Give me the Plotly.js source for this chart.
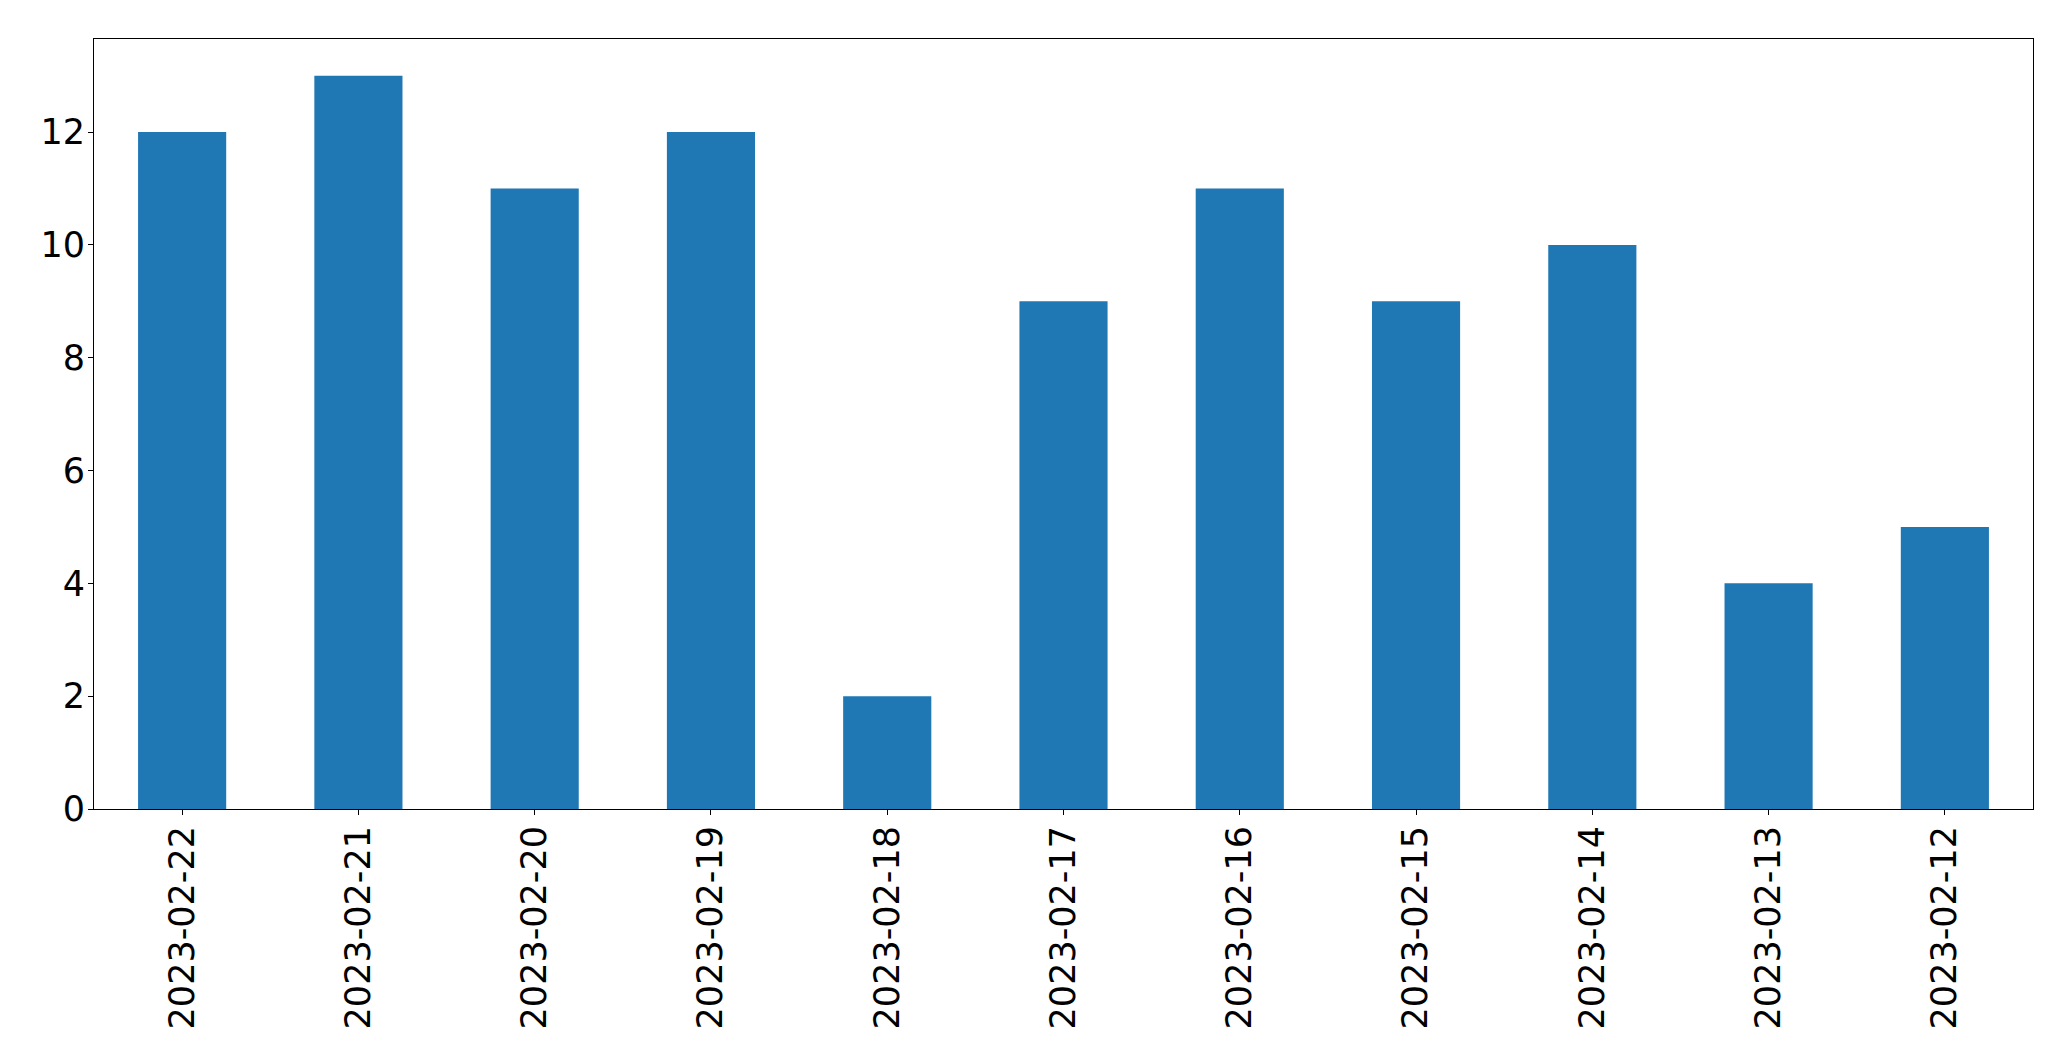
<!DOCTYPE html>
<html>
<head>
<meta charset="utf-8">
<script src="https://cdn.plot.ly/plotly-3.0.1.min.js"></script>
<style>html,body{margin:0;padding:0;background:#fff;}#chart{width:2071px;height:1061px;}</style>
</head>
<body>
<div id="chart"></div>
<script>
const dates = ["2023-02-22","2023-02-21","2023-02-20","2023-02-19","2023-02-18","2023-02-17","2023-02-16","2023-02-15","2023-02-14","2023-02-13","2023-02-12"];
const counts = [12, 13, 11, 12, 2, 9, 11, 9, 10, 4, 5];
const yTicks = [0, 2, 4, 6, 8, 10, 12];

const font = {family: "DejaVu Sans, sans-serif", size: 35, color: "#000"};
Plotly.newPlot("chart", [{
  type: "bar",
  x: dates,
  y: counts,
  marker: {color: "#1f77b4", line: {width: 0}},
  hoverinfo: "x+y"
}], {
  width: 2071,
  height: 1061,
  margin: {l: 94, r: 38, t: 39, b: 252, pad: 0},
  paper_bgcolor: "#fff",
  plot_bgcolor: "#fff",
  bargap: 0.5,
  showlegend: false,
  font: font,
  xaxis: {
    type: "category",
    range: [-0.5, dates.length - 0.5],
    tickangle: -90,
    ticks: "outside",
    ticklen: 5,
    tickwidth: 1,
    tickcolor: "#000",
    showline: true,
    linecolor: "#000",
    linewidth: 1,
    mirror: true,
    showgrid: false,
    zeroline: false,
    tickfont: font,
    ticklabelstandoff: -3
  },
  yaxis: {
    range: [0, 13.65],
    tickmode: "array",
    tickvals: yTicks,
    ticktext: yTicks.map(String),
    ticks: "outside",
    ticklen: 5,
    tickwidth: 1,
    tickcolor: "#000",
    showline: true,
    linecolor: "#000",
    linewidth: 1,
    mirror: true,
    showgrid: false,
    zeroline: false,
    tickfont: font,
    ticklabelstandoff: -4
  }
}, {displayModeBar: false, staticPlot: true});
</script>
</body>
</html>
